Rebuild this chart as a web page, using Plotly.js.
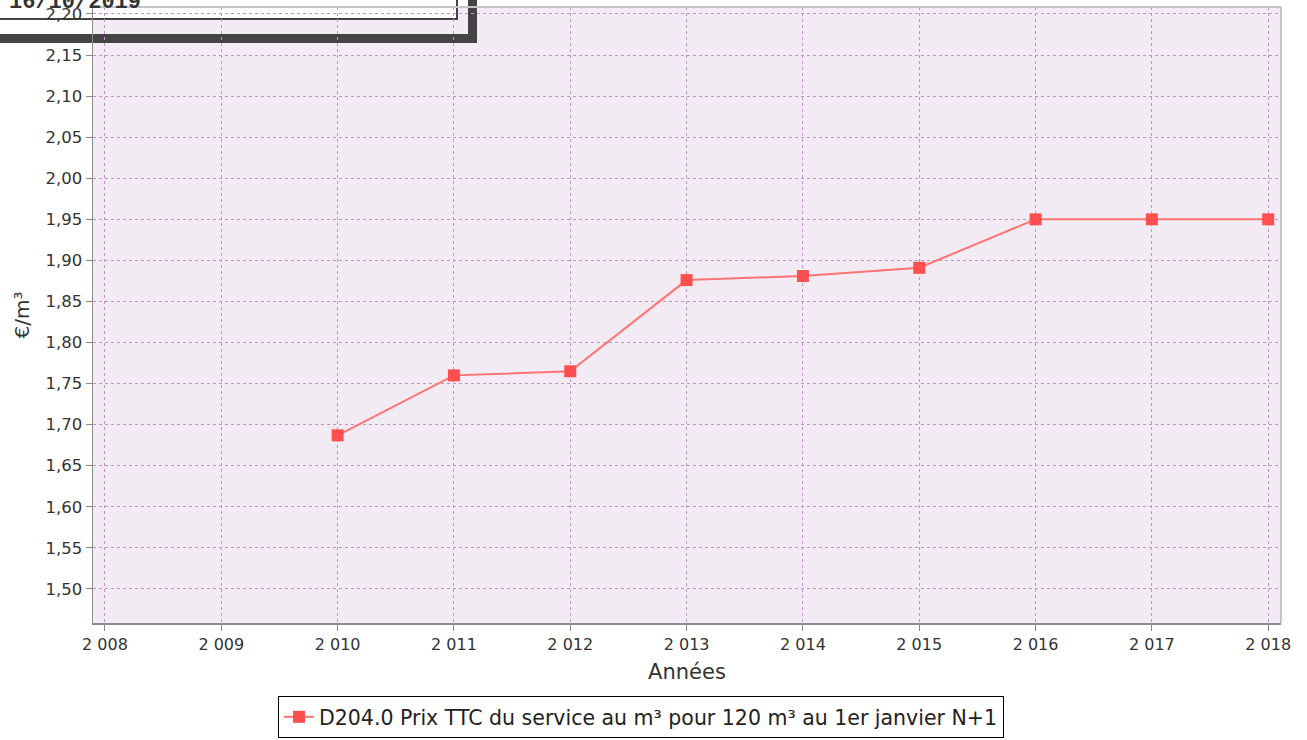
<!DOCTYPE html>
<html>
<head>
<meta charset="utf-8">
<script src="https://cdn.plot.ly/plotly-3.0.1.min.js"></script>
<style>html,body{margin:0;padding:0;background:#fff;}#chart{width:1307px;height:740px;}</style>
</head>
<body>
<div id="chart"></div>
<script>
// Data
const years = [2010, 2011, 2012, 2013, 2014, 2015, 2016, 2017, 2018];
const prices = [1.687, 1.760, 1.765, 1.876, 1.881, 1.891, 1.950, 1.950, 1.950];
const seriesName = "D204.0 Prix TTC du service au m³ pour 120 m³ au 1er janvier N+1";
const xTicks = [2008, 2009, 2010, 2011, 2012, 2013, 2014, 2015, 2016, 2017, 2018];
const yTicks = [1.50, 1.55, 1.60, 1.65, 1.70, 1.75, 1.80, 1.85, 1.90, 1.95, 2.00, 2.05, 2.10, 2.15, 2.20];
const dateLabel = "16/10/2019";

const W = 1307, H = 740;
const L = 93, R = 26, T = 7, B = 117;
const pw = W - L - R, ph = H - T - B;
const px = x => (x - L) / pw;
const py = y => (H - B - y) / ph;

const trace = {
  x: years, y: prices, name: seriesName,
  type: 'scatter', mode: 'lines+markers',
  line: {color: '#ff7373', width: 2},
  marker: {symbol: 'square', size: 12, color: '#ff4f4f'},
  hoverinfo: 'skip'
};

const gridColor = '#c093c8';
const layout = {
  width: W, height: H,
  margin: {l: L, r: R, t: T, b: B, pad: 0, autoexpand: false},
  paper_bgcolor: '#ffffff',
  plot_bgcolor: '#f3ebf3',
  separators: ', ',
  font: {family: 'DejaVu Sans, sans-serif', color: '#333333'},
  showlegend: true,
  xaxis: {
    range: [2007.897, 2018.11],
    tickvals: xTicks, tickformat: ',d',
    ticks: 'outside', ticklen: 6, tickcolor: '#888888',
    tickfont: {size: 16, color: '#333333'},
    showgrid: true, gridcolor: gridColor, griddash: '3px,3px', gridwidth: 1,
    showline: true, linecolor: '#8c8c8c', linewidth: 1.5,
    zeroline: false,
    title: {text: 'Années', font: {size: 21, color: '#333333'}, standoff: 11}
  },
  yaxis: {
    range: [1.4585, 2.2085],
    tickvals: yTicks, tickformat: '.2f',
    ticks: 'outside', ticklen: 6, tickcolor: '#888888',
    tickfont: {size: 16.5, color: '#333333'},
    showgrid: true, gridcolor: gridColor, griddash: '3px,3px', gridwidth: 1,
    showline: true, linecolor: '#8c8c8c', linewidth: 1.5,
    zeroline: false,
    title: {text: '€/m³', font: {size: 20, color: '#333333'}, standoff: 10}
  },
  legend: {
    orientation: 'h', x: px(641), xanchor: 'center', y: py(696), yanchor: 'top',
    bordercolor: '#000000', borderwidth: 1, bgcolor: '#ffffff',
    font: {size: 20.5, color: '#222222'}
  },
  shapes: [
    {type: 'rect', xref: 'paper', yref: 'paper', layer: 'above',
     x0: 1, x1: 1, y0: 0, y1: 1, line: {color: '#c4c4c4', width: 2}},
    {type: 'rect', xref: 'paper', yref: 'paper', layer: 'above',
     x0: 0, x1: 1, y0: 1, y1: 1, line: {color: '#c4c4c4', width: 2}},
    {type: 'rect', xref: 'paper', yref: 'paper', layer: 'below',
     x0: px(-5), x1: px(457), y0: py(19), y1: py(-5),
     fillcolor: '#ffffff', line: {color: '#444444', width: 2}},
    {type: 'rect', xref: 'paper', yref: 'paper', layer: 'below',
     x0: px(-5), x1: px(477), y0: py(43), y1: py(34),
     fillcolor: '#444444', line: {width: 0}},
    {type: 'rect', xref: 'paper', yref: 'paper', layer: 'below',
     x0: px(468), x1: px(477), y0: py(43), y1: py(-5),
     fillcolor: '#444444', line: {width: 0}}
  ],
  annotations: [
    {text: '<b>' + dateLabel + '</b>', xref: 'paper', yref: 'paper',
     x: px(7), xanchor: 'left', y: py(3), yanchor: 'middle',
     showarrow: false, font: {family: 'Liberation Mono, Courier New, monospace', size: 22, color: '#333333'}}
  ]
};

Plotly.newPlot('chart', [trace], layout, {displayModeBar: false, staticPlot: true});
</script>
</body>
</html>
